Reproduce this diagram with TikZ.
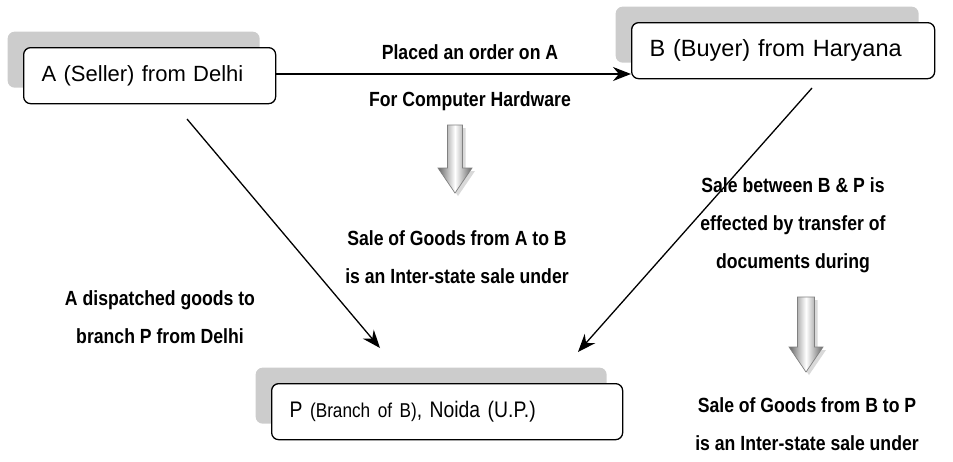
\documentclass[tikz,border=0pt]{standalone}
\usepackage{fontspec}
\setmainfont{Liberation Sans}
\newfontfamily\narrowfont[FakeStretch=0.86]{Liberation Sans}
\usetikzlibrary{arrows.meta,shadows}
\tikzset{
  boxsty/.style={draw=black, line width=1.3pt, rounded corners=7pt, fill=white,
    anchor=north west, minimum height=56pt, inner xsep=18pt, align=left,
    copy shadow={shadow xshift=-16pt, shadow yshift=16pt, fill=black!20, draw=none, rounded corners=7pt}},
  lbl/.style={font=\narrowfont\fontsize{20.5}{38}\selectfont\bfseries, inner sep=0pt, align=center},
  conn/.style={line width=1.3pt, -{Stealth[length=18pt,width=14pt]}},
  garrowsty/.style={draw=black!50, line width=0.7pt, left color=black!60, right color=black!60, middle color=white},
  gshadow/.style={fill=black!15, draw=none}
}
\newcommand\grayarrow[5]{% center x, shaft top, head base, tip, shaft half width
  \fill[gshadow] (#1-#5+3,#2+3) -- (#1+#5+3,#2+3) -- (#1+#5+3,#3+3) -- (#1+17+3,#3+3) -- (#1+3,#4+3) -- (#1-17+3,#3+3) -- (#1-#5+3,#3+3) -- cycle;
  \path[garrowsty] (#1-#5,#2) -- (#1+#5,#2) -- (#1+#5,#3) -- (#1+17,#3) -- (#1,#4) -- (#1-17,#3) -- (#1-#5,#3) -- cycle;
}
\begin{document}
\begin{tikzpicture}[x=1pt,y=-1pt]
\useasboundingbox (0,0) rectangle (953,461);

\node[boxsty, text width=216pt, font=\fontsize{22}{22}\selectfont] (A) at (23,47) {A (Seller) from Delhi};
\node[boxsty, text width=267pt, font=\fontsize{23.5}{23.5}\selectfont] (B) at (631,22) {B (Buyer) from Haryana};
\node[boxsty, text width=315pt, font=\narrowfont\fontsize{22.5}{22.5}\selectfont] (P) at (271,383) {P {\fontsize{20}{20}\selectfont(Branch of B)}, Noida (U.P.)};

\coordinate (a1) at (187,119);
\coordinate (p1) at (380,348);
\coordinate (b1) at (812,88);
\coordinate (p2) at (578,352);

\draw[conn] (A.east |- 0,74) -- (B.west |- 0,74);
\draw[conn] (a1) -- (p1);
\draw[conn] (b1) -- (p2);

\node[lbl] (t1) at (470,52) {Placed an order on A};
\node[lbl] (t2) at (470,101) {For Computer Hardware};
\node[lbl] (t3) at (457,257) {Sale of Goods from A to B\\is an Inter-state sale under};
\node[lbl] (t4) at (160,317.5) {A dispatched goods to\\branch P from Delhi};
\node[lbl] (t5) at (793,225) {Sale between B \& P is\\effected by transfer of\\documents during};
\node[lbl] (t6) at (807,424) {Sale of Goods from B to P\\is an Inter-state sale under};

\grayarrow{455}{125}{168}{193}{7.5}
\grayarrow{806}{297}{347}{372}{8.5}
\end{tikzpicture}
\end{document}
